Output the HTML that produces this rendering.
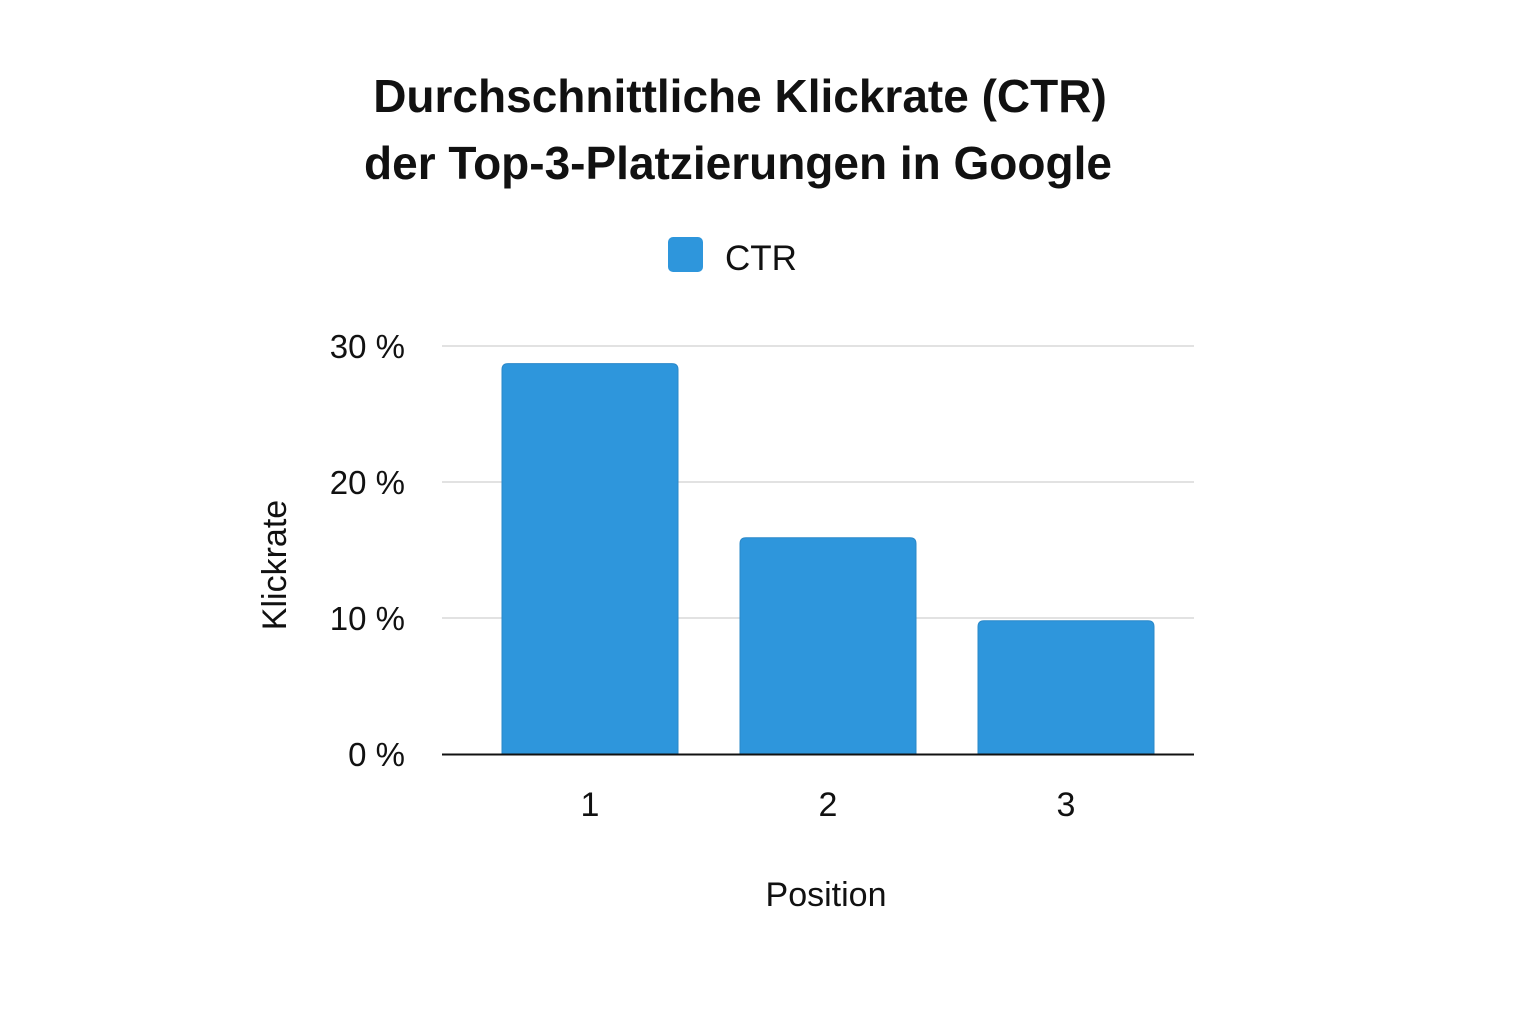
<!DOCTYPE html>
<html>
<head>
<meta charset="utf-8">
<style>
  html,body{margin:0;padding:0;background:#fff;}
  body{width:1536px;height:1024px;overflow:hidden;font-family:"Liberation Sans","DejaVu Sans",sans-serif;}
  svg text{font-family:"Liberation Sans","DejaVu Sans",sans-serif;fill:#111;}
</style>
</head>
<body>
<svg id="chart" width="1536" height="1024" viewBox="0 0 1536 1024" xmlns="http://www.w3.org/2000/svg">
  <text x="740" y="112" text-anchor="middle" font-size="46" font-weight="bold">Durchschnittliche Klickrate (CTR)</text>
  <text x="738" y="179" text-anchor="middle" font-size="46" font-weight="bold">der Top-3-Platzierungen in Google</text>
  <g>
    <rect x="668" y="237" width="35" height="35" rx="5" fill="#2e96dc"/>
    <text x="725" y="270" font-size="35">CTR</text>
  </g>
  <g id="grid"></g>
  <g id="bars"></g>
  <g id="xticks"></g>
  <line x1="442" y1="754.5" x2="1194" y2="754.5" stroke="#111" stroke-width="2"/>
  <text transform="translate(286,565) rotate(-90)" text-anchor="middle" font-size="34">Klickrate</text>
  <text x="826" y="906" text-anchor="middle" font-size="34">Position</text>
</svg>
<script>
const categories = ["1", "2", "3"];
const ctrValues = [28.7, 15.9, 9.8];
const yTicks = [0, 10, 20, 30];
const yTickLabels = ["0 %", "10 %", "20 %", "30 %"];

const NS = "http://www.w3.org/2000/svg";
function y(v){ return 754 - v * 13.6; }
function x(i){ return 590 + i * 238; }
const barW = 176;

const grid = document.getElementById("grid");
yTicks.forEach((t, i) => {
  if (t !== 0) {
    const l = document.createElementNS(NS, "line");
    
    
    l.setAttribute("x1", 442); l.setAttribute("x2", 1194);
    l.setAttribute("y1", y(t)); l.setAttribute("y2", y(t));
    l.setAttribute("stroke", "#d9d9d9"); l.setAttribute("stroke-width", "1.5");
    grid.appendChild(l);
  }
  const tx = document.createElementNS(NS, "text");
  
  
  tx.setAttribute("x", 405); tx.setAttribute("y", y(t) + 12);
  tx.setAttribute("text-anchor", "end"); tx.setAttribute("font-size", "33");
  tx.textContent = yTickLabels[i];
  grid.appendChild(tx);
});

const bars = document.getElementById("bars");
const xt = document.getElementById("xticks");
categories.forEach((c, i) => {
  const top = y(ctrValues[i]);
  const p = document.createElementNS(NS, "path");
  
  
  const x0 = x(i) - barW / 2, x1 = x(i) + barW / 2, r = 6, b = 754;
  p.setAttribute("d", `M${x0},${b} L${x0},${top + r} Q${x0},${top} ${x0 + r},${top} L${x1 - r},${top} Q${x1},${top} ${x1},${top + r} L${x1},${b} Z`);
  p.setAttribute("fill", "#2e96dc");
  p.setAttribute("stroke", "#2a88c9"); p.setAttribute("stroke-width", "1");
  bars.appendChild(p);
  const t = document.createElementNS(NS, "text");
  
  
  t.setAttribute("x", x(i)); t.setAttribute("y", 816);
  t.setAttribute("text-anchor", "middle"); t.setAttribute("font-size", "34");
  t.textContent = c;
  xt.appendChild(t);
});
</script>
</body>
</html>
